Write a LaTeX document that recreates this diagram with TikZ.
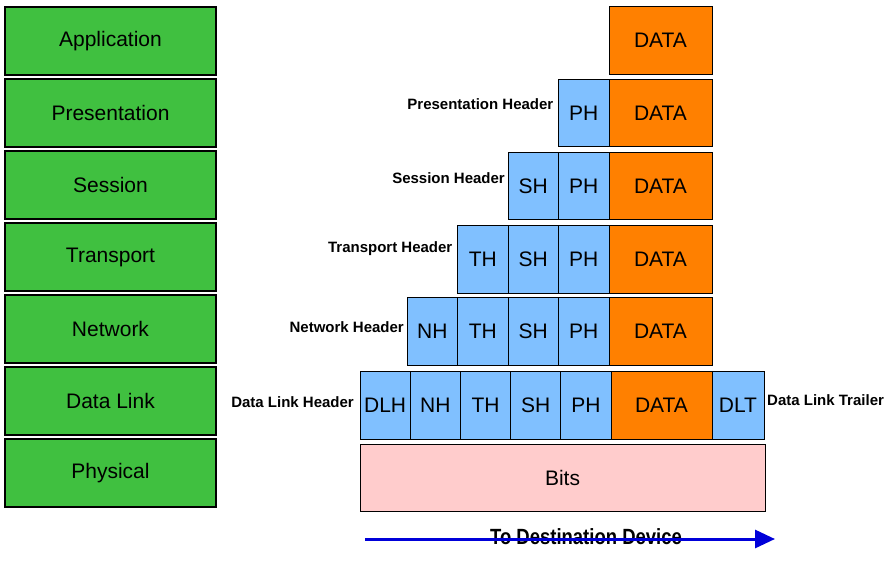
\documentclass[tikz,border=0pt]{standalone}
\usepackage{fontspec}
\setmainfont{Liberation Sans}
\newfontfamily\destfont[FakeStretch=0.84]{Liberation Sans}
\usetikzlibrary{positioning, arrows.meta}
\definecolor{layergreen}{RGB}{64,192,64}
\definecolor{hdrblue}{RGB}{128,192,255}
\definecolor{dataorange}{RGB}{255,128,0}
\definecolor{bitspink}{RGB}{255,204,204}
\tikzstyle{layerbox} = [rectangle, minimum width=211pt, minimum height=68pt, inner sep=0pt, outer sep=0pt, text centered, draw=black, line width=1.2pt, fill=layergreen, font=\fontsize{21}{25}\selectfont]
\tikzstyle{hdrbox} = [rectangle, minimum width=50.5pt, minimum height=67.5pt, inner sep=0pt, outer sep=0pt, text centered, draw=black, line width=0.9pt, fill=hdrblue, font=\fontsize{21}{25}\selectfont]
\tikzstyle{databox} = [rectangle, minimum width=103pt, minimum height=67.5pt, inner sep=0pt, outer sep=0pt, text centered, draw=black, line width=0.9pt, fill=dataorange, font=\fontsize{21}{25}\selectfont]
\tikzstyle{bitsbox} = [rectangle, minimum width=405pt, minimum height=67pt, inner sep=0pt, outer sep=0pt, text centered, draw=black, line width=0.9pt, fill=bitspink, font=\fontsize{21}{25}\selectfont]
\tikzstyle{hlabel} = [inner sep=0pt, font=\fontsize{15}{18}\selectfont\bfseries]
\tikzstyle{arrow} = [line width=3pt, blue!85!black, -{Triangle[length=20pt, width=18pt]}]

\begin{document}
\begin{tikzpicture}[x=1pt, y=-1pt, node distance=4pt]
    \useasboundingbox (0,0) rectangle (896,560);

        % Layers
        \node (app) [layerbox] at (110.5,41) {Application};
        \node (pres) [layerbox, below=of app] {Presentation};
        \node (sess) [layerbox, below=of pres] {Session};
        \node (trans) [layerbox, below=of sess] {Transport};
        \node (net) [layerbox, below=of trans] {Network};
        \node (link) [layerbox, below=of net] {Data Link};
        \node (phys) [layerbox, below=of link] {Physical};

        % Application row
        \node (d1) [databox] at (660.5,40.5) {DATA};

        % Presentation row
        \node (d2) [databox] at (660.5,113) {DATA};
        \node (ph2) [hdrbox, left=0pt of d2] {PH};
        \node (pl2) [hlabel, left=5pt of ph2, yshift=9pt] {Presentation Header};

        % Session row
        \node (d3) [databox] at (660.5,186) {DATA};
        \node (ph3) [hdrbox, left=0pt of d3] {PH};
        \node (sh3) [hdrbox, left=0pt of ph3] {SH};
        \node (sl3) [hlabel, left=3pt of sh3, yshift=8pt] {Session Header};

        % Transport row
        \node (d4) [databox] at (660.5,259.5) {DATA};
        \node (ph4) [hdrbox, left=0pt of d4] {PH};
        \node (sh4) [hdrbox, left=0pt of ph4] {SH};
        \node (th4) [hdrbox, left=0pt of sh4] {TH};
        \node (tl4) [hlabel, left=5pt of th4, yshift=11pt] {Transport Header};

        % Network row
        \node (d5) [databox] at (660.5,331.5) {DATA};
        \node (ph5) [hdrbox, left=0pt of d5] {PH};
        \node (sh5) [hdrbox, left=0pt of ph5] {SH};
        \node (th5) [hdrbox, left=0pt of sh5] {TH};
        \node (nh5) [hdrbox, left=0pt of th5] {NH};
        \node (nl5) [hlabel, left=3pt of nh5, yshift=4pt] {Network Header};

        % Data link row
        \node (d6) [databox, minimum width=101pt] at (661.5,405.5) {DATA};
        \node (ph6) [hdrbox, minimum width=50.2pt, left=0pt of d6] {PH};
        \node (sh6) [hdrbox, minimum width=50.2pt, left=0pt of ph6] {SH};
        \node (th6) [hdrbox, minimum width=50.2pt, left=0pt of sh6] {TH};
        \node (nh6) [hdrbox, minimum width=50.2pt, left=0pt of th6] {NH};
        \node (dlh6) [hdrbox, minimum width=50.2pt, left=0pt of nh6] {DLH};
        \node (dlt6) [hdrbox, minimum width=52pt, right=0pt of d6] {DLT};
        \node (hl6) [hlabel, left=6pt of dlh6, yshift=3pt] {Data Link Header};
        \node (tl6) [hlabel, right=3pt of dlt6, yshift=5pt] {Data Link Trailer};

        % Physical row
        \node (bits) [bitsbox] at (562.5,477.5) {Bits};

        % Arrows
        \node (dest) [inner sep=0pt, font=\destfont\fontsize{22}{26}\selectfont\bfseries] at (586,537) {To Destination Device};
        \coordinate (src) at (365,539);
        \coordinate (dst) at (775,539);
        \draw [arrow] (src) -- (dst);

    \end{tikzpicture}
\end{document}
